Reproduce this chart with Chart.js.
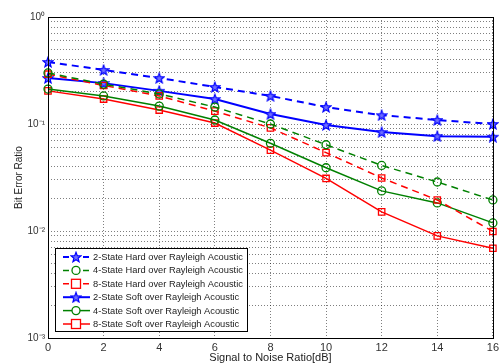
<!DOCTYPE html>
<html>
<head>
<meta charset="utf-8">
<script src="https://cdn.jsdelivr.net/npm/chart.js@4.4.1/dist/chart.umd.min.js"></script>
<style>
html,body{margin:0;padding:0;background:#fff;}
#wrap{width:502px;height:363px;position:relative;}
</style>
</head>
<body>
<div id="wrap"><canvas id="c" width="502" height="363"></canvas></div>
<script>
// ---- data ----
const snr = [0, 2, 4, 6, 8, 10, 12, 14, 16];
const hard2 = [0.380, 0.320, 0.269, 0.222, 0.183, 0.144, 0.121, 0.109, 0.100];
const hard4 = [0.300, 0.236, 0.191, 0.144, 0.100, 0.064, 0.041, 0.0287, 0.0195];
const hard8 = [0.292, 0.229, 0.183, 0.132, 0.092, 0.054, 0.0313, 0.0195, 0.0099];
const soft2 = [0.269, 0.241, 0.204, 0.171, 0.124, 0.098, 0.084, 0.077, 0.076];
const soft4 = [0.212, 0.183, 0.147, 0.109, 0.066, 0.039, 0.0237, 0.0183, 0.0119];
const soft8 = [0.204, 0.171, 0.135, 0.102, 0.057, 0.031, 0.0151, 0.0090, 0.0069];
const labels = [
  '2-State Hard over Rayleigh Acoustic',
  '4-State Hard over Rayleigh Acoustic',
  '8-State Hard over Rayleigh Acoustic',
  '2-State Soft over Rayleigh Acoustic',
  '4-State Soft over Rayleigh Acoustic',
  '8-State Soft over Rayleigh Acoustic'
];
const xTicks = [0, 2, 4, 6, 8, 10, 12, 14, 16];
const yDecades = [-3, -2, -1, 0];
const supMap = {'-':'\u207B','0':'\u2070','1':'\u00B9','2':'\u00B2','3':'\u00B3'};

const BLUE = '#0000ff', GREEN = '#008000', RED = '#ff0000';

function starCanvas(color) {
  const s = 12, c = document.createElement('canvas');
  c.width = s; c.height = s;
  const g = c.getContext('2d');
  const cx = s / 2, cy = s / 2 + 0.5, R = 5.2, r = 2.2;
  g.beginPath();
  for (let i = 0; i < 10; i++) {
    const rad = i % 2 === 0 ? R : r;
    const a = -Math.PI / 2 + i * Math.PI / 5;
    const px = cx + rad * Math.cos(a), py = cy + rad * Math.sin(a);
    if (i === 0) g.moveTo(px, py); else g.lineTo(px, py);
  }
  g.closePath();
  g.fillStyle = 'rgba(110,110,255,1)';
  g.fill();
  g.lineWidth = 1.2;
  g.strokeStyle = color;
  g.stroke();
  return c;
}
const star = starCanvas(BLUE);

function ds(label, data, color, dashed, marker) {
  return {
    label, data: data.map((v, i) => ({x: snr[i], y: v})),
    borderColor: color, backgroundColor: 'rgba(0,0,0,0)',
    borderWidth: color === BLUE ? 2 : 1.5,
    borderDash: dashed ? [7, 5] : [],
    pointStyle: marker, pointRadius: marker === 'rect' ? 4.5 : 4,
    pointBorderColor: color, pointBackgroundColor: 'rgba(0,0,0,0)',
    pointBorderWidth: 1.3, tension: 0, clip: false
  };
}
const datasets = [
  ds(labels[0], hard2, BLUE, true, star),
  ds(labels[1], hard4, GREEN, true, 'circle'),
  ds(labels[2], hard8, RED, true, 'rect'),
  ds(labels[3], soft2, BLUE, false, star),
  ds(labels[4], soft4, GREEN, false, 'circle'),
  ds(labels[5], soft8, RED, false, 'rect')
];

const FONT = "'Liberation Sans', Arial, sans-serif";

const boxPlugin = {
  id: 'box',
  afterDraw(chart) {
    const {ctx, chartArea: a} = chart;
    ctx.save();
    ctx.strokeStyle = '#000';
    ctx.lineWidth = 1;
    ctx.strokeRect(Math.round(a.left) + 0.5, Math.round(a.top) + 0.5,
                   Math.round(a.right - a.left), Math.round(a.bottom - a.top));
    // legend box
    const lx = 55.5, ly = 248.5, lw = 192, lh = 83;
    ctx.fillStyle = '#fff';
    ctx.fillRect(lx, ly, lw, lh);
    ctx.strokeRect(lx, ly, lw, lh);
    ctx.font = '9.3px ' + FONT;
    ctx.textBaseline = 'middle';
    ctx.textAlign = 'left';
    chart.data.datasets.forEach((d, i) => {
      const y = 257 + i * 13.4;
      ctx.save();
      ctx.strokeStyle = d.borderColor;
      ctx.lineWidth = d.borderWidth;
      ctx.setLineDash(d.borderDash.length ? [6, 4] : []);
      ctx.beginPath();
      ctx.moveTo(63, y); ctx.lineTo(90, y);
      ctx.stroke();
      ctx.setLineDash([]);
      ctx.lineWidth = d.pointBorderWidth;
      if (d.pointStyle === 'circle') {
        ctx.fillStyle = '#fff';
        ctx.beginPath(); ctx.arc(76, y, 4, 0, Math.PI * 2); ctx.fill(); ctx.stroke();
      } else if (d.pointStyle === 'rect') {
        ctx.fillStyle = '#fff';
        ctx.fillRect(76 - 4.5, y - 4.5, 9, 9);
        ctx.strokeRect(76 - 4.5, y - 4.5, 9, 9);
      } else {
        const img = d.pointStyle;
        ctx.drawImage(img, 76 - img.width / 2, y - img.height / 2);
      }
      ctx.restore();
      ctx.fillStyle = '#222';
      ctx.fillText(d.label, 93, y + 0.5);
    });
    ctx.restore();
  }
};

new Chart(document.getElementById('c'), {
  type: 'line',
  data: {datasets},
  plugins: [boxPlugin],
  options: {
    responsive: false, animation: false,
    layout: {padding: {top: 17, right: 3, left: 13, bottom: 0}},
    plugins: {legend: {display: false}, tooltip: {enabled: false}},
    scales: {
      x: {
        type: 'linear', min: 0, max: 16,
        afterBuildTicks: s => { s.ticks = xTicks.map(v => ({value: v})); },
        afterFit: s => { s.height = 25; },
        ticks: {font: {family: FONT, size: 11}, color: '#333', padding: 3, maxRotation: 0},
        grid: {color: 'rgba(0,0,0,0.5)', lineWidth: 1, drawTicks: false},
        border: {display: false, dash: [1, 2]},
        title: {display: true, text: 'Signal to Noise Ratio[dB]', font: {family: FONT, size: 11}, color: '#222', padding: {top: 0, bottom: -2}}
      },
      y: {
        type: 'logarithmic', min: 0.001, max: 1,
        afterBuildTicks: s => {
          const t = [];
          yDecades.forEach(e => {
            for (let m = 1; m <= (e === 0 ? 1 : 9); m++) t.push({value: m * Math.pow(10, e), major: m === 1});
          });
          s.ticks = t;
        },
        afterFit: s => { s.width = 35; },
        ticks: {
          autoSkip: false, font: {family: FONT, size: 10}, color: '#333', padding: 3,
          callback: (v) => {
            const e = Math.round(Math.log10(v));
            if (Math.abs(v - Math.pow(10, e)) > 1e-12) return '';
            return '10' + String(e).split('').map(ch => supMap[ch]).join('');
          }
        },
        grid: {color: 'rgba(0,0,0,0.5)', lineWidth: 1, drawTicks: false},
        border: {display: false, dash: [1, 2]},
        title: {display: true, text: 'Bit Error Ratio', font: {family: FONT, size: 10}, color: '#222', padding: {top: 0, bottom: 0}}
      }
    }
  }
});
</script>
</body>
</html>
